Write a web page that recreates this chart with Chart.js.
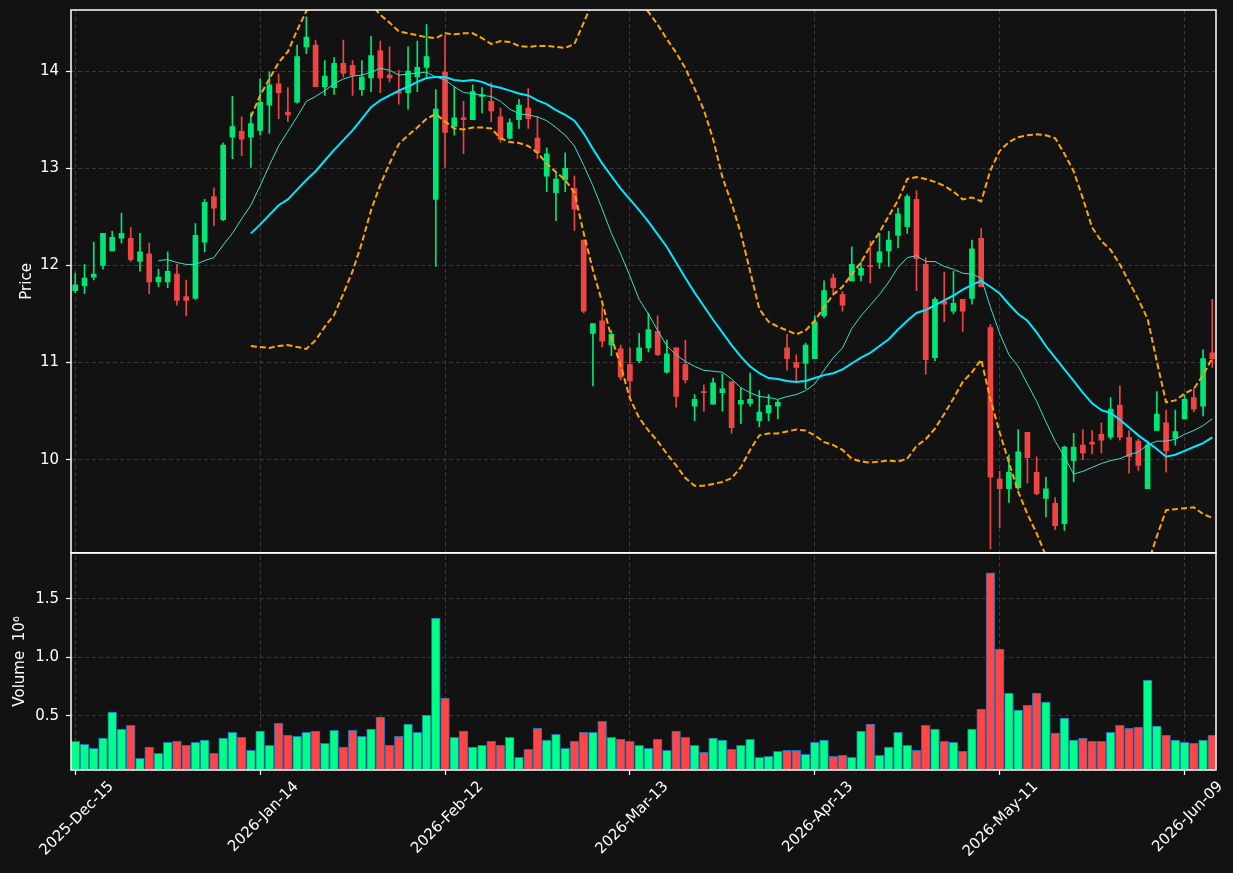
<!DOCTYPE html>
<html>
<head>
<meta charset="utf-8">
<script src="https://cdn.jsdelivr.net/npm/chart.js@4.4.1/dist/chart.umd.min.js"></script>
<style>
  html, body { margin: 0; padding: 0; background: #121212; }
  canvas { display: block; }
</style>
</head>
<body>
<canvas id="myChart" width="1233" height="873"></canvas>
<script>
// x axis: candle index, labelled every 20 sessions
const tickIdx = [0, 20, 40, 60, 80, 100, 120];
const tickLabels = ['2025-Dec-15', '2026-Jan-14', '2026-Feb-12', '2026-Mar-13', '2026-Apr-13', '2026-May-11', '2026-Jun-09'];
const priceTicks = [10, 11, 12, 13, 14];
const volumeTicks = [0.5, 1.0, 1.5];

const opens = [11.74,11.79,11.88,12.00,12.15,12.28,12.28,12.04,12.12,11.83,
  11.83,11.91,11.68,11.66,12.24,12.71,12.47,13.32,13.38,13.32,
  13.39,13.65,13.87,13.58,13.68,14.25,14.27,13.84,13.83,14.08,
  14.06,13.81,13.93,14.21,13.96,13.79,13.78,13.94,14.04,12.68,
  13.99,13.43,13.52,13.50,13.74,13.69,13.53,13.31,13.50,13.62,
  13.31,12.92,12.75,12.88,12.79,12.26,11.30,11.43,11.18,11.14,
  10.98,11.02,11.15,11.32,10.90,11.15,10.98,10.55,10.70,10.57,
  10.69,10.80,10.57,10.58,10.40,10.48,10.55,11.15,11.00,10.99,
  11.04,11.48,11.87,11.70,11.84,11.90,12.00,12.03,12.15,12.31,
  12.40,12.68,12.01,11.05,11.63,11.53,11.65,11.66,12.28,11.36,
  9.80,9.70,9.71,10.28,9.87,9.60,9.55,9.34,9.99,10.15,
  10.18,10.26,10.23,10.56,10.23,10.19,9.70,10.30,10.38,10.22,
  10.42,10.64,10.55,11.10];
const highs = [11.92,12.01,12.24,12.33,12.35,12.54,12.39,12.33,12.23,11.96,
  12.14,12.01,11.85,12.43,12.68,12.80,13.26,13.74,13.53,13.57,
  13.92,13.99,13.97,13.83,14.27,14.56,14.32,14.11,14.14,14.32,
  14.11,14.11,14.36,14.31,14.25,14.01,14.25,14.31,14.48,13.81,
  14.37,13.84,13.69,13.86,13.83,13.88,13.62,13.51,13.71,13.82,
  13.53,13.21,12.95,13.16,12.92,12.26,11.40,11.57,11.33,11.18,
  11.15,11.30,11.51,11.48,11.23,11.15,11.23,10.67,10.77,10.84,
  10.88,10.80,10.74,10.89,10.71,10.67,10.61,11.29,11.08,11.20,
  11.48,11.84,11.91,11.73,12.19,12.04,12.25,12.33,12.35,12.59,
  12.73,12.77,12.08,11.67,11.93,11.94,11.65,12.26,12.38,11.39,
  9.88,10.05,10.31,10.28,10.03,9.82,9.61,10.14,10.27,10.31,
  10.30,10.38,10.64,10.76,10.30,10.21,10.19,10.70,10.51,10.51,
  10.67,10.73,11.13,11.65];
const lows = [11.72,11.71,11.85,11.96,12.15,12.23,12.04,11.94,11.71,11.78,
  11.77,11.59,11.48,11.65,12.14,12.41,12.46,13.10,13.13,13.01,
  13.34,13.36,13.51,13.48,13.67,14.18,13.84,13.75,13.76,13.94,
  13.75,13.75,13.79,13.78,13.89,13.66,13.61,13.79,13.94,11.99,
  13.01,13.34,13.15,13.50,13.57,13.48,13.27,13.30,13.41,13.41,
  13.10,12.76,12.46,12.76,12.36,11.51,10.76,11.16,11.07,10.82,
  10.64,11.00,11.11,11.07,10.89,10.54,10.79,10.40,10.50,10.57,
  10.50,10.27,10.37,10.55,10.34,10.40,10.42,10.92,10.80,10.73,
  11.04,11.46,11.71,11.53,11.84,11.84,11.82,11.97,11.99,12.18,
  12.33,11.74,10.88,11.02,11.42,11.50,11.32,11.60,11.78,9.08,
  9.30,9.56,9.69,9.76,9.64,9.41,9.28,9.27,9.77,10.00,
  10.06,10.07,10.21,10.20,9.86,9.89,9.70,10.30,9.87,10.15,
  10.42,10.49,10.45,10.95];
const closes = [11.80,11.87,11.91,12.33,12.29,12.33,12.06,12.14,11.83,11.88,
  11.94,11.64,11.64,12.31,12.65,12.59,13.24,13.43,13.30,13.46,
  13.68,13.86,13.78,13.55,14.15,14.35,13.84,13.95,14.08,13.98,
  13.96,13.94,14.16,13.93,13.93,13.77,14.00,14.04,14.15,13.61,
  13.37,13.52,13.50,13.79,13.76,13.59,13.30,13.47,13.65,13.51,
  13.16,13.15,12.89,13.00,12.58,11.53,11.40,11.22,11.29,10.85,
  10.81,11.15,11.34,11.08,11.09,10.65,10.82,10.62,10.69,10.79,
  10.73,10.33,10.61,10.62,10.49,10.56,10.59,11.04,10.95,11.18,
  11.42,11.74,11.77,11.59,12.01,11.97,11.99,12.14,12.26,12.53,
  12.71,12.07,11.03,11.65,11.60,11.61,11.53,12.17,11.78,9.82,
  9.70,9.87,10.08,10.02,9.65,9.70,9.32,10.13,10.13,10.07,
  10.16,10.20,10.52,10.23,10.03,9.94,10.15,10.47,10.09,10.29,
  10.62,10.52,11.04,11.04];
// volume in millions
const volumes = [0.283,0.257,0.223,0.309,0.532,0.386,0.420,0.137,0.232,0.180,
  0.274,0.283,0.249,0.274,0.292,0.180,0.309,0.360,0.317,0.206,
  0.369,0.249,0.437,0.334,0.326,0.360,0.369,0.266,0.377,0.232,
  0.377,0.326,0.386,0.489,0.249,0.326,0.429,0.360,0.506,1.337,
  0.652,0.317,0.369,0.232,0.249,0.283,0.249,0.317,0.146,0.214,
  0.394,0.292,0.343,0.223,0.283,0.360,0.360,0.454,0.317,0.300,
  0.283,0.249,0.223,0.300,0.206,0.369,0.317,0.249,0.189,0.309,
  0.292,0.214,0.249,0.300,0.146,0.154,0.197,0.206,0.206,0.172,
  0.274,0.292,0.154,0.163,0.146,0.369,0.429,0.163,0.232,0.360,
  0.249,0.206,0.420,0.386,0.283,0.274,0.197,0.386,0.557,1.723,
  1.071,0.694,0.549,0.592,0.694,0.617,0.352,0.480,0.292,0.309,
  0.283,0.283,0.360,0.420,0.394,0.403,0.806,0.412,0.334,0.292,
  0.274,0.266,0.292,0.334];

// overlays (null where the line has not started)
const ma10 = [null,null,null,null,null,null,null,null,null,
  12.05,12.06,12.03,12.01,12.01,12.05,12.08,12.21,12.33,12.48,12.62,
  12.82,13.03,13.23,13.38,13.53,13.69,13.74,13.80,13.87,13.92,
  13.95,13.96,13.99,14.03,14.01,13.96,13.97,13.98,13.99,13.94,
  13.91,13.84,13.78,13.77,13.75,13.74,13.69,13.61,13.56,13.55,
  13.53,13.49,13.42,13.34,13.23,13.03,12.82,12.58,12.33,12.12,
  11.89,11.65,11.50,11.33,11.17,11.08,11.01,10.96,10.92,10.91,
  10.90,10.83,10.74,10.69,10.65,10.64,10.62,10.65,10.67,10.71,
  10.78,10.92,11.05,11.15,11.35,11.48,11.59,11.70,11.83,11.98,
  12.08,12.10,12.04,12.04,11.99,11.96,11.92,11.91,11.87,11.57,
  11.30,11.08,10.96,10.78,10.60,10.39,10.19,10.03,9.85,9.88,
  9.92,9.96,9.99,10.01,10.05,10.08,10.15,10.19,10.19,10.21,
  10.26,10.30,10.35,10.42];
const ma20 = [null,null,null,null,null,null,null,null,null,null,
  null,null,null,null,null,null,null,null,null,
  12.33,12.42,12.52,12.62,12.68,12.78,12.88,12.97,13.08,13.19,13.29,
  13.39,13.51,13.63,13.70,13.75,13.80,13.84,13.89,13.93,13.94,
  13.94,13.91,13.90,13.91,13.89,13.85,13.83,13.80,13.77,13.75,
  13.70,13.66,13.60,13.55,13.49,13.36,13.20,13.05,12.92,12.79,
  12.68,12.57,12.45,12.32,12.19,12.03,11.87,11.72,11.58,11.44,
  11.31,11.18,11.06,10.96,10.89,10.84,10.83,10.81,10.80,10.81,
  10.84,10.87,10.89,10.93,10.99,11.05,11.10,11.17,11.24,11.34,
  11.43,11.51,11.54,11.59,11.64,11.69,11.75,11.80,11.84,11.78,
  11.71,11.60,11.50,11.43,11.31,11.17,11.05,10.93,10.81,10.69,
  10.58,10.51,10.48,10.41,10.33,10.25,10.18,10.11,10.03,10.05,
  10.09,10.13,10.17,10.23];
const bbUpper = [null,null,null,null,null,null,null,null,null,null,
  null,null,null,null,null,null,null,null,null,
  13.53,13.75,13.92,14.09,14.20,14.42,14.62,14.71,14.79,14.89,14.87,
  14.84,14.79,14.69,14.58,14.50,14.41,14.39,14.37,14.35,14.34,
  14.39,14.38,14.39,14.39,14.34,14.28,14.31,14.30,14.26,14.25,
  14.26,14.26,14.25,14.24,14.28,14.50,14.72,14.78,14.77,14.78,
  14.78,14.71,14.61,14.48,14.33,14.19,14.03,13.82,13.60,13.30,
  12.91,12.64,12.33,11.94,11.55,11.42,11.37,11.33,11.29,11.33,
  11.43,11.57,11.70,11.78,11.91,12.03,12.20,12.34,12.51,12.67,
  12.89,12.91,12.89,12.86,12.82,12.76,12.68,12.70,12.66,12.98,
  13.18,13.27,13.32,13.34,13.35,13.34,13.31,13.15,12.97,12.69,
  12.39,12.25,12.16,12.01,11.83,11.65,11.45,11.01,10.59,10.61,
  10.68,10.73,10.87,11.05];
const bbLower = [null,null,null,null,null,null,null,null,null,null,
  null,null,null,null,null,null,null,null,null,
  11.17,11.16,11.15,11.17,11.18,11.16,11.14,11.23,11.37,11.49,11.71,
  11.94,12.23,12.57,12.83,13.05,13.25,13.34,13.42,13.51,13.56,
  13.48,13.41,13.40,13.42,13.42,13.41,13.31,13.27,13.26,13.23,
  13.16,13.05,12.96,12.88,12.75,12.33,11.95,11.62,11.26,10.97,
  10.63,10.43,10.30,10.19,10.06,9.94,9.81,9.73,9.73,9.75,
  9.77,9.81,9.92,10.10,10.25,10.27,10.27,10.29,10.31,10.30,
  10.25,10.18,10.15,10.10,10.01,9.98,9.97,9.98,9.99,9.98,
  10.01,10.14,10.21,10.32,10.47,10.63,10.80,10.90,11.03,10.62,
  10.28,9.97,9.67,9.44,9.24,9.01,8.79,8.71,8.65,8.69,
  8.77,8.77,8.80,8.81,8.83,8.85,8.92,9.21,9.48,9.49,
  9.50,9.51,9.44,9.40];

const UP = '#00e676', DOWN = '#ef4444';
const VOL_UP = '#00ff88', VOL_DOWN = '#ff4646';
const BG = '#121212', GRID = '#3a3a3a';
const FONT = { family: 'DejaVu Sans', size: 15 };

const isUp = closes.map((c, i) => c >= opens[i]);
const pts = arr => arr.map((v, i) => ({ x: i, y: v })).filter(p => p.y !== null);

const background = {
  id: 'background',
  beforeDraw(chart) {
    const ctx = chart.ctx;
    ctx.save();
    ctx.fillStyle = BG;
    ctx.fillRect(0, 0, chart.width, chart.height);
    ctx.restore();
  }
};
// white frame round each panel
const frames = {
  id: 'frames',
  afterDatasetsDraw(chart) {
    const { ctx, scales: { x, y, v } } = chart;
    ctx.save();
    ctx.strokeStyle = '#ffffff';
    ctx.lineWidth = 1.5;
    ctx.strokeRect(x.left, y.top, x.right - x.left, y.bottom - y.top);
    ctx.strokeRect(x.left, v.top, x.right - x.left, v.bottom - v.top);
    ctx.restore();
  }
};
const noPad = s => { s.paddingTop = 0; s.paddingBottom = 0; };

const ctx = document.getElementById('myChart').getContext('2d');
const myChart = new Chart(ctx, {
  type: 'bar',
  data: {
    datasets: [
      { type: 'line', label: 'MA20', data: pts(ma20), yAxisID: 'y', borderColor: '#00e8ff', borderWidth: 2, pointRadius: 0, order: 0, clip: 0 },
      { type: 'line', label: 'MA10', data: pts(ma10), yAxisID: 'y', borderColor: '#40dccb', borderWidth: 1, pointRadius: 0, order: 0, clip: 0 },
      { type: 'line', label: 'BB upper', data: pts(bbUpper), yAxisID: 'y', borderColor: '#ffa500', borderWidth: 2, borderDash: [6, 3], pointRadius: 0, order: 0, clip: 0 },
      { type: 'line', label: 'BB lower', data: pts(bbLower), yAxisID: 'y', borderColor: '#ffa500', borderWidth: 2, borderDash: [6, 3], pointRadius: 0, order: 0, clip: 0 },
      { label: 'body', data: opens.map((o, i) => ({ x: i, y: [o, closes[i]] })), yAxisID: 'y',
        backgroundColor: isUp.map(u => u ? UP : DOWN), barThickness: 5, minBarLength: 1, order: 1 },
      { label: 'wick', data: lows.map((l, i) => ({ x: i, y: [l, highs[i]] })), yAxisID: 'y',
        backgroundColor: isUp.map(u => u ? UP : DOWN), barThickness: 1, order: 2 },
      { label: 'Volume', data: volumes.map((val, i) => ({ x: i, y: val })), yAxisID: 'v',
        backgroundColor: isUp.map(u => u ? VOL_UP : VOL_DOWN), borderColor: '#1f6fb4', borderWidth: 1,
        barThickness: 8.8, order: 3 }
    ]
  },
  options: {
    responsive: false,
    animation: false,
    devicePixelRatio: 1,
    events: [],
    datasets: { bar: { grouped: false } },
    layout: { padding: { left: 0, right: 17, top: 10, bottom: 0 } },
    plugins: { legend: { display: false }, tooltip: { enabled: false } },
    scales: {
      x: {
        type: 'linear', min: -0.46, max: 123.4, offset: false,
        afterBuildTicks: s => { s.ticks = tickIdx.map(v => ({ value: v })); },
        afterFit: s => { s.height = 103; s.paddingLeft = 0; s.paddingRight = 0; },
        ticks: {
          autoSkip: false, minRotation: 45, maxRotation: 45, color: '#ffffff', font: FONT,
          padding: 3, labelOffset: 36,
          callback: v => tickLabels[tickIdx.indexOf(v)]
        },
        grid: { offset: false, color: GRID, lineWidth: 1, tickLength: 5, tickColor: '#ffffff', tickWidth: 1.2 },
        border: { display: false, dash: [4, 3] }
      },
      v: {
        type: 'linear', position: 'left', stack: 'panels', stackWeight: 1, min: 0.037, max: 1.894,
        afterBuildTicks: s => { s.ticks = volumeTicks.map(v => ({ value: v })); },
        afterFit: s => { s.width = 71; noPad(s); },
        ticks: { color: '#ffffff', font: FONT, padding: 7, callback: v => v.toFixed(1) },
        grid: { color: GRID, lineWidth: 1, tickLength: 5, tickColor: '#ffffff', tickWidth: 1.2 },
        border: { display: false, dash: [4, 3] },
        title: { display: true, text: 'Volume  10\u2076', color: '#ffffff', font: FONT, padding: { top: 11, bottom: 0 } }
      },
      y: {
        type: 'linear', position: 'left', stack: 'panels', stackWeight: 2.5, min: 9.04, max: 14.63,
        afterBuildTicks: s => { s.ticks = priceTicks.map(v => ({ value: v })); },
        afterFit: s => { s.width = 71; noPad(s); },
        ticks: { color: '#ffffff', font: FONT, padding: 7, callback: v => String(v) },
        grid: { color: GRID, lineWidth: 1, tickLength: 5, tickColor: '#ffffff', tickWidth: 1.2 },
        border: { display: false, dash: [4, 3] },
        title: { display: true, text: 'Price', color: '#ffffff', font: FONT, padding: { top: 18, bottom: 0 } }
      }
    }
  },
  plugins: [background, frames]
});
</script>
</body>
</html>
